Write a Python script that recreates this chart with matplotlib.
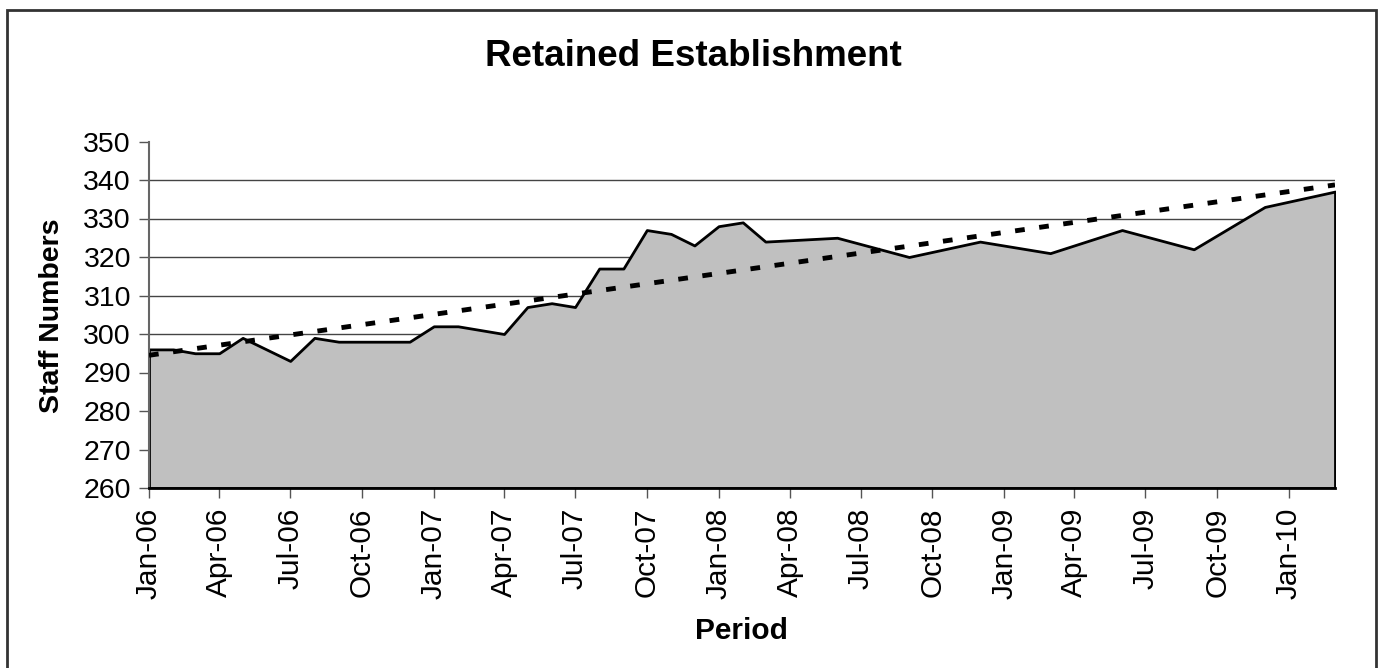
import numpy as np
import pandas as pd
import matplotlib
matplotlib.use("Agg")
import matplotlib.pyplot as plt
import matplotlib.dates as mdates
from matplotlib.patches import Rectangle

plt.rcParams['font.family'] = ['Liberation Sans', 'DejaVu Sans']

# staff numbers (vertices of the area outline)
periods = ["2006-01", "2006-02", "2006-03", "2006-04", "2006-05", "2006-07",
           "2006-08", "2006-09", "2006-10", "2006-11", "2006-12", "2007-01",
           "2007-02", "2007-04", "2007-05", "2007-06", "2007-07", "2007-08",
           "2007-09", "2007-10", "2007-11", "2007-12", "2008-01", "2008-02",
           "2008-03", "2008-06", "2008-09", "2008-12", "2009-03", "2009-06",
           "2009-09", "2009-12", "2010-03"]
staff = [296, 296, 295, 295, 299, 293,
         299, 298, 298, 298, 298, 302,
         302, 300, 307, 308, 307, 317,
         317, 327, 326, 323, 328, 329,
         324, 325, 320, 324, 321, 327,
         322, 333, 337]

dates = pd.to_datetime(periods)
tick_dates = pd.date_range("2006-01-01", "2010-01-01", freq="3MS")

fig = plt.figure(figsize=(13.78, 6.68), dpi=100)
ax = fig.add_axes([149/1378, 1-488/668, (1335-149)/1378, (488-141.5)/668])

ax.fill_between(dates, staff, 260, facecolor='#c0c0c0', edgecolor='black',
                linewidth=2, zorder=2)

# linear trendline (like Excel's)
xnum = mdates.date2num(dates)
coef = np.polyfit(xnum, staff, 1)
xt = np.array([xnum[0], xnum[-1]])
ax.plot(xt, np.polyval(coef, xt), color='black', linewidth=3.5,
        dashes=(2.0, 3.0), zorder=3)

ax.set_xlim(dates[0], dates[-1])
ax.set_ylim(260, 350)
ax.set_yticks(range(260, 351, 10))
ax.set_xticks(tick_dates)
ax.xaxis.set_major_formatter(mdates.DateFormatter('%b-%y'))
plt.setp(ax.get_xticklabels(), rotation=90)

ax.tick_params(axis='both', direction='out', length=7,
               width=1, color='#555555')
ax.tick_params(axis='x', pad=7, labelsize=21.5)
ax.tick_params(axis='y', pad=6, labelsize=20.5)

ax.yaxis.grid(True, color='#444444', linewidth=1)
ax.get_ygridlines()[-1].set_visible(False)
ax.get_ygridlines()[0].set_visible(False)
ax.set_axisbelow(True)

for s in ['top', 'right']:
    ax.spines[s].set_visible(False)
ax.spines['left'].set_color('#666666')
ax.spines['left'].set_linewidth(1.5)
ax.spines['bottom'].set_color('black')
ax.spines['bottom'].set_linewidth(2)

fig.text(693/1378, 1-57/668, 'Retained Establishment', fontsize=26.5,
         fontweight='bold', ha='center', va='center')
fig.text(52/1378, 1-316/668, 'Staff Numbers', fontsize=20.5, fontweight='bold',
         ha='center', va='center', rotation=90)
fig.text(741/1378, 1-631/668, 'Period', fontsize=21.5, fontweight='bold',
         ha='center', va='center')

fig.patches.append(Rectangle((7/1378, -0.02), (1376-7)/1378, 1.02-10/668,
                             transform=fig.transFigure, fill=False,
                             edgecolor='#333333', linewidth=2))

fig.savefig('out.png', dpi=100)
